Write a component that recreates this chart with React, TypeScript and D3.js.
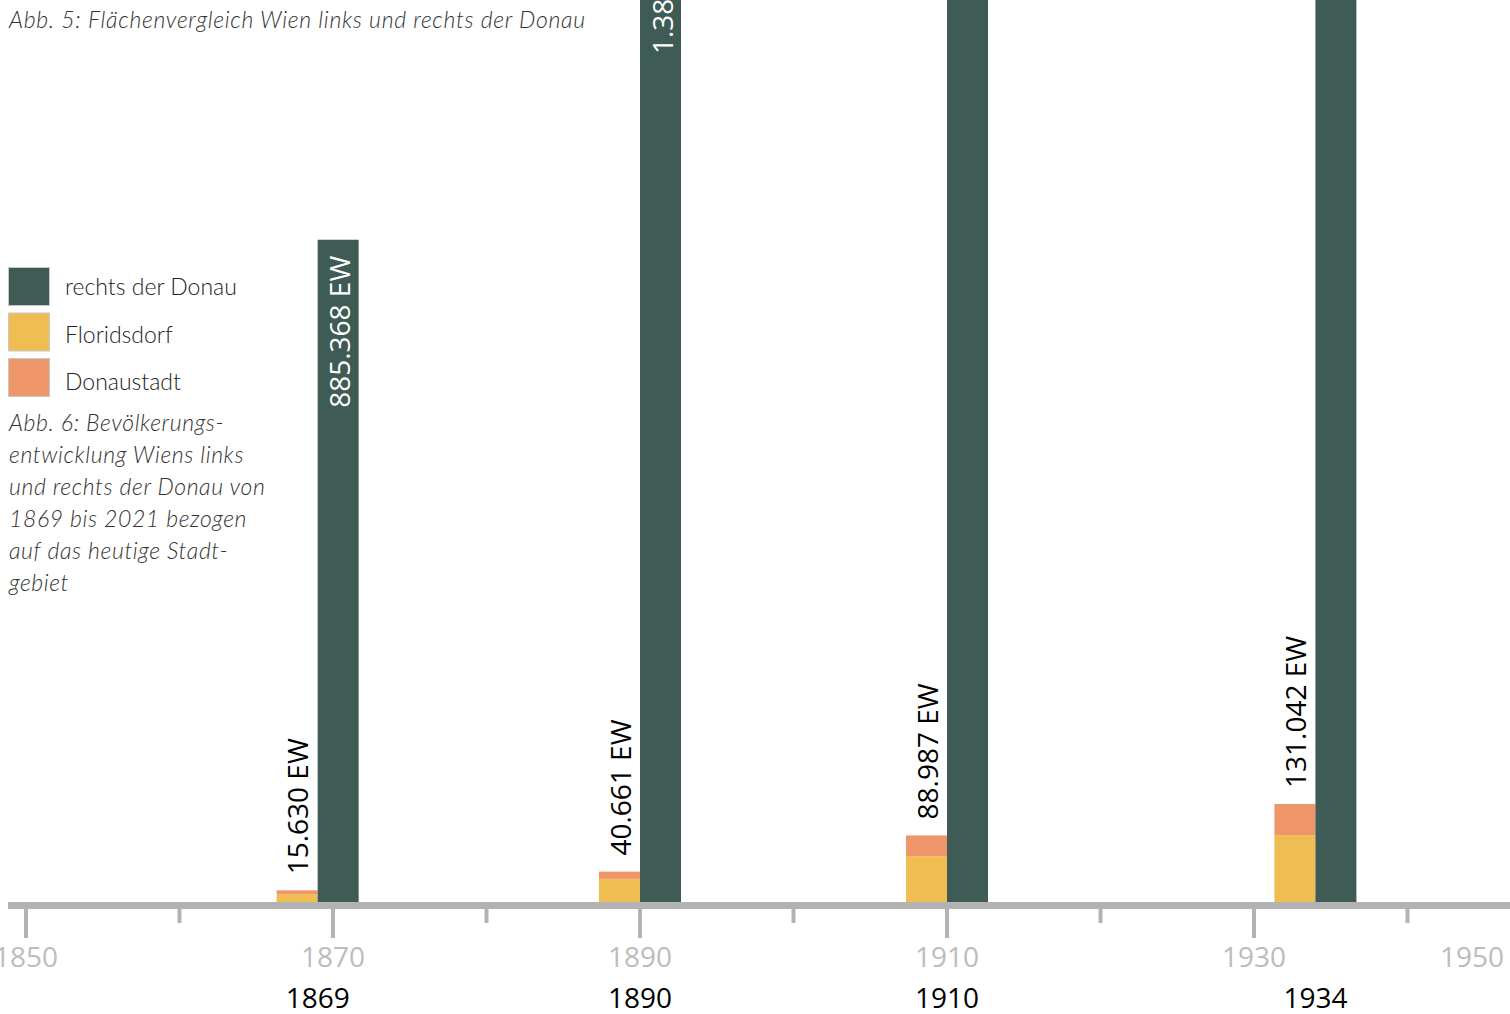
import React from "react";
import * as d3 from "d3";

const categories = ["1869", "1890", "1910", "1934"];
const categoryYears = [1869, 1890, 1910, 1934];
const rechtsDerDonau = [885368, 1389552, 1994643, 1804839];
const floridsdorf = [10500, 30900, 61200, 89400];
const donaustadt = [5130, 9761, 27787, 41642];
const leftTotals = ["15.630 EW", "40.661 EW", "88.987 EW", "131.042 EW"];
const rightLabels = ["885.368 EW", "1.389.552 EW", "", ""];
const majorTicks = [1850, 1870, 1890, 1910, 1930, 1950];
const minorTicks = [1860, 1880, 1900, 1920, 1940];
const legendLabels = ["rechts der Donau", "Floridsdorf", "Donaustadt"];
const captionTop = "Abb. 5: Flächenvergleich Wien links und rechts der Donau";
const captionLines = [
  "Abb. 6: Bevölkerungs-",
  "entwicklung Wiens links",
  "und rechts der Donau von",
  "1869 bis 2021 bezogen",
  "auf das heutige Stadt-",
  "gebiet",
];

const W = 1510;
const H = 1014;
const GREEN = "#3f5b55";
const YELLOW = "#efbd52";
const ORANGE = "#ee956a";
const AXIS = "#b3b3b3";
const TICKTXT = "#bcbcbc";
const baseY = 902;
const barW = 41;
const numFont = "'Open Sans', 'Liberation Sans', sans-serif";
const textFont = "Lato, 'Noto Sans', sans-serif";

export default function App() {
  const x = d3.scaleLinear().domain([1850, 1950]).range([26, 26 + 1535]);
  const y = d3.scaleLinear().domain([0, 1000000]).range([baseY, baseY - 748]);
  const legendColors = [GREEN, YELLOW, ORANGE];

  return (
    <svg
      width={W}
      height={H}
      style={{ position: "absolute", left: 0, top: 0, background: "#fff" }}
    >
      {/* bars */}
      {categories.map((c, i) => {
        const xc = x(categoryYears[i]);
        const yF = y(floridsdorf[i]);
        const yD = y(floridsdorf[i] + donaustadt[i]);
        const yG = y(rechtsDerDonau[i]);
        return (
          <g key={c}>
            <rect x={xc - barW} y={yF} width={barW} height={baseY - yF} fill={YELLOW} />
            <rect x={xc - barW} y={yD} width={barW} height={yF - yD} fill={ORANGE} />
            <rect x={xc} y={yG} width={barW} height={baseY - yG} fill={GREEN} />
            <text
              transform={`translate(${xc - barW / 2},${yD - 16}) rotate(-90)`}
              dominantBaseline="central"
              textAnchor="start"
              fontFamily={numFont}
              fontSize={28}
              fill="#000"
            >
              {leftTotals[i]}
            </text>
            {rightLabels[i] && (
              <text
                transform={`translate(${xc + barW / 2 + 1},${yG + 16}) rotate(-90)`}
                dominantBaseline="central"
                textAnchor="end"
                fontFamily={numFont}
                fontSize={28}
                fill="#fff"
              >
                {rightLabels[i]}
              </text>
            )}
          </g>
        );
      })}

      {/* axis */}
      <rect x={8} y={baseY} width={W - 8} height={7} fill={AXIS} />
      {majorTicks.map((t) => (
        <rect key={t} x={x(t) - 2} y={baseY + 3} width={4} height={33} fill={AXIS} />
      ))}
      {minorTicks.map((t) => (
        <rect key={t} x={x(t) - 2} y={baseY + 3} width={4} height={18} fill={AXIS} />
      ))}
      {majorTicks.map((t, i) => {
        const last = i === majorTicks.length - 1;
        return (
          <text
            key={"l" + t}
            x={last ? W - 6 : x(t)}
            y={967}
            textAnchor={last ? "end" : "middle"}
            fontFamily={numFont}
            fontSize={28}
            fill={TICKTXT}
          >
            {t}
          </text>
        );
      })}
      {categories.map((c, i) => (
        <text
          key={"c" + c}
          x={x(categoryYears[i])}
          y={1008}
          textAnchor="middle"
          fontFamily={numFont}
          fontSize={28}
          fill="#000"
        >
          {c}
        </text>
      ))}

      {/* legend */}
      {legendLabels.map((l, i) => (
        <g key={l}>
          <rect
            x={8.5}
            y={267.5 + i * 45.5}
            width={41}
            height={38}
            fill={legendColors[i]}
            stroke="#c8c8c8"
            strokeWidth={1}
          />
          <text
            x={65}
            y={295 + i * 47.5}
            fontFamily={textFont}
            fontWeight={300}
            fontSize={23}
            fill="#222"
          >
            {l}
          </text>
        </g>
      ))}

      {/* captions */}
      <text
        x={9}
        y={28}
        fontFamily={textFont}
        fontStyle="italic"
        fontWeight={300}
        fontSize={23}
        letterSpacing={0.7}
        fill="#333"
      >
        {captionTop}
      </text>
      {captionLines.map((l, i) => (
        <text
          key={"cap" + i}
          x={9}
          y={431 + i * 32}
          fontFamily={textFont}
          fontStyle="italic"
          fontWeight={300}
          fontSize={23}
          letterSpacing={0.6}
          fill="#333"
        >
          {l}
        </text>
      ))}
    </svg>
  );
}
